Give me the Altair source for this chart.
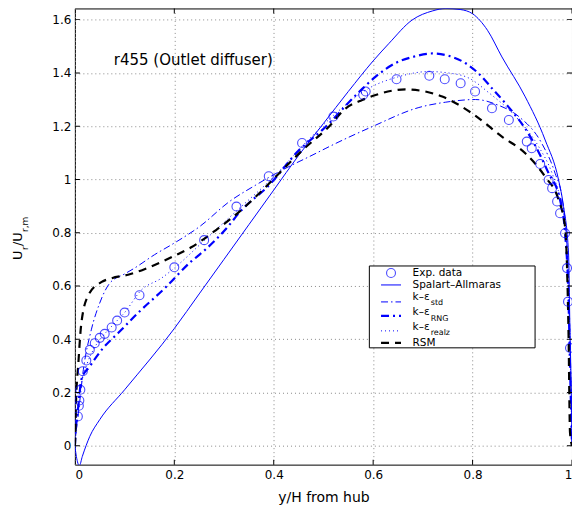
import altair as alt
import pandas as pd

# ---------------- data ----------------
exp_x = [0.006, 0.008, 0.009, 0.011, 0.016, 0.023, 0.03, 0.04, 0.05, 0.06, 0.074, 0.085, 0.10, 0.13,
         0.2, 0.26, 0.325, 0.39, 0.457, 0.52, 0.58, 0.585, 0.647, 0.713, 0.744, 0.776, 0.805, 0.839,
         0.873, 0.909, 0.919, 0.936, 0.953, 0.96, 0.97, 0.976, 0.986, 0.99, 0.992, 0.996]
exp_y = [0.11, 0.15, 0.17, 0.21, 0.28, 0.32, 0.36, 0.385, 0.405, 0.42, 0.444, 0.47, 0.50, 0.565,
         0.67, 0.772, 0.898, 1.012, 1.137, 1.236, 1.318, 1.33, 1.376, 1.389, 1.376, 1.361, 1.33, 1.267,
         1.223, 1.142, 1.117, 1.058, 0.998, 0.967, 0.917, 0.873, 0.798, 0.667, 0.541, 0.367]

sa_x = [0.0, 0.003, 0.009, 0.015, 0.03, 0.05, 0.1, 0.2, 0.25, 0.3, 0.35, 0.4, 0.45, 0.5, 0.55, 0.6,
        0.632, 0.678, 0.72, 0.746, 0.775, 0.8, 0.83, 0.859, 0.906, 0.946, 0.973, 0.983, 0.993, 0.996,
        0.999, 1.0]
sa_y = [0.0, -0.04, -0.075, -0.04, 0.035, 0.098, 0.21, 0.44, 0.57, 0.70, 0.83, 0.96, 1.09, 1.21, 1.33,
        1.445, 1.511, 1.598, 1.633, 1.642, 1.638, 1.622, 1.56, 1.46, 1.31, 1.148, 0.998, 0.898, 0.724,
        0.424, 0.15, 0.0]

std_x = [0.0, 0.003, 0.007, 0.017, 0.033, 0.05, 0.07, 0.1, 0.12, 0.16, 0.2, 0.251, 0.311, 0.364, 0.418,
         0.485, 0.505, 0.598, 0.692, 0.746, 0.806, 0.85, 0.893, 0.939, 0.966, 0.98, 0.99, 0.995, 1.0]
std_y = [0.0, 0.06, 0.12, 0.285, 0.435, 0.536, 0.61, 0.645, 0.667, 0.717, 0.761, 0.823, 0.917, 0.979,
         1.036, 1.098, 1.117, 1.198, 1.27, 1.29, 1.30, 1.28, 1.236, 1.136, 1.023, 0.93, 0.75, 0.45, 0.0]

rng_x = [0.0, 0.003, 0.007, 0.013, 0.03, 0.057, 0.087, 0.13, 0.18, 0.234, 0.258, 0.308, 0.331, 0.391,
         0.451, 0.498, 0.572, 0.605, 0.645, 0.68, 0.719, 0.75, 0.786, 0.812, 0.84, 0.866, 0.92, 0.953,
         0.976, 0.986, 0.993, 0.996, 1.0]
rng_y = [0.0, 0.086, 0.15, 0.248, 0.298, 0.367, 0.423, 0.504, 0.59, 0.692, 0.729, 0.823, 0.876, 0.979,
         1.11, 1.186, 1.329, 1.386, 1.437, 1.46, 1.473, 1.465, 1.436, 1.398, 1.34, 1.286, 1.148, 1.023,
         0.923, 0.8, 0.548, 0.3, 0.0]

realz_x = [0.0, 0.003, 0.008, 0.015, 0.025, 0.04, 0.06, 0.08, 0.1, 0.134, 0.174, 0.2, 0.26, 0.33, 0.4,
           0.46, 0.52, 0.592, 0.65, 0.712, 0.75, 0.792, 0.833, 0.893, 0.933, 0.96, 0.976, 0.986, 0.993,
           0.997, 1.0]
realz_y = [0.0, 0.1, 0.18, 0.25, 0.31, 0.37, 0.42, 0.46, 0.5, 0.585, 0.629, 0.667, 0.77, 0.89, 1.01,
           1.13, 1.24, 1.343, 1.385, 1.405, 1.40, 1.381, 1.325, 1.223, 1.123, 1.023, 0.93, 0.82, 0.6,
           0.3, 0.0]

rsm_x = [0.0, 0.001, 0.002, 0.007, 0.013, 0.027, 0.054, 0.074, 0.107, 0.14, 0.174, 0.2, 0.234, 0.284,
         0.331, 0.371, 0.411, 0.458, 0.511, 0.545, 0.578, 0.605, 0.665, 0.705, 0.739, 0.772, 0.799,
         0.859, 0.906, 0.946, 0.973, 0.986, 0.99, 0.993, 0.996, 1.0]
rsm_y = [0.0, 0.05, 0.15, 0.31, 0.46, 0.565, 0.615, 0.629, 0.642, 0.663, 0.69, 0.713, 0.745, 0.81,
         0.879, 0.948, 1.023, 1.11, 1.198, 1.267, 1.298, 1.317, 1.338, 1.33, 1.311, 1.28, 1.248,
         1.161, 1.098, 1.01, 0.923, 0.823, 0.673, 0.424, 0.05, 0.0]

x_ticks = [0, 0.2, 0.4, 0.6, 0.8, 1.0]
y_ticks = [0, 0.2, 0.4, 0.6, 0.8, 1.0, 1.2, 1.4, 1.6]

x_title = "y/H from hub"
plot_title = "r455 (Outlet diffuser)"
legend_names = ["Exp. data", "Spalart–Allmaras", "k–ε", "k–ε", "k–ε", "RSM"]
legend_subs = ["", "", "std", "RNG", "realz", ""]

# ---------------- styling ----------------
W, H = 498, 457
FONT = "DejaVu Sans"
BLUE = "#0000ff"
xs = alt.Scale(domain=[0, 1], nice=False, zero=False)
ys = alt.Scale(domain=[-0.071, 1.642], nice=False, zero=False)

common_axis = dict(format="~g", grid=True, gridDash=[1, 3], gridColor="#8a8a8a", gridWidth=1,
                   ticks=False, domain=False, labelFont=FONT, labelFontSize=12,
                   labelColor="black")
xaxis = alt.Axis(values=x_ticks, labelPadding=5, title=x_title, titleFont=FONT, titleFontSize=14,
                 titleFontWeight="normal", titleColor="black", titlePadding=10, **common_axis)
yaxis = alt.Axis(values=y_ticks, labelPadding=4, title=None, **common_axis)


def line_layer(xv, yv, color, width, dash=None):
    df = pd.DataFrame({"x": xv, "y": yv, "i": list(range(len(xv)))})
    kw = dict(stroke=color, color=color, strokeWidth=width, clip=True, interpolate="monotone")
    if dash:
        kw["strokeDash"] = dash
    return alt.Chart(df).mark_line(**kw).encode(
        x=alt.X("x:Q", scale=xs, axis=xaxis),
        y=alt.Y("y:Q", scale=ys, axis=yaxis),
        order="i:Q",
    )


one = pd.DataFrame({"a": [0]})


def txt(t, x, y, size, angle=None, align="left"):
    kw = dict(text=t, font=FONT, fontSize=size, color="black", align=align, baseline="middle")
    if angle is not None:
        kw["angle"] = angle
    return alt.Chart(one).mark_text(**kw).encode(x=alt.value(x), y=alt.value(y))


layers = []

# curves
sa = line_layer(sa_x, sa_y, BLUE, 1)
std = line_layer(std_x, std_y, BLUE, 1, [7, 3, 1.5, 3])
rng = line_layer(rng_x, rng_y, BLUE, 2.2, [8, 4, 2, 4])
realz = line_layer(realz_x, realz_y, BLUE, 1, [1, 3])
rsm = line_layer(rsm_x, rsm_y, "black", 2.2, [8, 6])
exp = alt.Chart(pd.DataFrame({"x": exp_x, "y": exp_y})).mark_point(
    shape="circle", filled=False, size=80, strokeWidth=1.1, color=BLUE, clip=True
).encode(x=alt.X("x:Q", scale=xs, axis=xaxis), y=alt.Y("y:Q", scale=ys, axis=yaxis))
layers += [sa, std, realz, rng, rsm, exp]

# inward ticks on all four sides
xt = pd.DataFrame({"v": x_ticks})
yt = pd.DataFrame({"v": y_ticks})
tick_kw = dict(size=10, thickness=1, color="black", clip=True, opacity=1)
layers.append(alt.Chart(xt).mark_tick(orient="vertical", **tick_kw).encode(
    x=alt.X("v:Q", scale=xs, axis=xaxis), y=alt.value(H)))
layers.append(alt.Chart(xt).mark_tick(orient="vertical", **tick_kw).encode(
    x=alt.X("v:Q", scale=xs, axis=xaxis), y=alt.value(0)))
layers.append(alt.Chart(yt).mark_tick(orient="horizontal", **tick_kw).encode(
    y=alt.Y("v:Q", scale=ys, axis=yaxis), x=alt.value(0)))
layers.append(alt.Chart(yt).mark_tick(orient="horizontal", **tick_kw).encode(
    y=alt.Y("v:Q", scale=ys, axis=yaxis), x=alt.value(W)))

# annotation title inside plot
layers.append(txt(plot_title, 39, 51.5, 15))

# y-axis label with subscripts (rotated)
layers.append(txt("U", -57, 252, 13, angle=270))
layers.append(txt("r", -50, 242, 9, angle=270))
layers.append(txt("/U", -57, 238, 13, angle=270))
layers.append(txt("r,m", -50, 224, 9, angle=270))

# legend box
layers.append(alt.Chart(one).mark_rect(fill="white", stroke="black", strokeWidth=1).encode(
    x=alt.value(295), x2=alt.value(461), y=alt.value(258), y2=alt.value(340)))

LX0, LX1, TX, SX = 306.7, 326.7, 338.3, 356.5
line_y = [265, 277, 294, 308, 323, 335]
main_y = [265, 277, 289, 304.5, 319, 335]
sub_y = [None, None, 295.5, 311, 325.5, None]
styles = [
    None,
    dict(stroke=BLUE, color=BLUE, strokeWidth=1),
    dict(stroke=BLUE, color=BLUE, strokeWidth=1, strokeDash=[7, 3, 1.5, 3]),
    dict(stroke=BLUE, color=BLUE, strokeWidth=2.2, strokeDash=[8, 4, 2, 4]),
    dict(stroke=BLUE, color=BLUE, strokeWidth=1, strokeDash=[1, 3]),
    dict(stroke="black", color="black", strokeWidth=2.2, strokeDash=[8, 6]),
]
layers.append(alt.Chart(one).mark_point(shape="circle", filled=False, size=80, strokeWidth=1.1,
                                        color=BLUE).encode(x=alt.value((LX0 + LX1) / 2),
                                                           y=alt.value(line_y[0])))
for i in range(1, 6):
    layers.append(alt.Chart(one).mark_rule(**styles[i]).encode(
        x=alt.value(LX0), x2=alt.value(LX1), y=alt.value(line_y[i])))
for i in range(6):
    layers.append(txt(legend_names[i], TX, main_y[i], 10.5))
    if legend_subs[i]:
        layers.append(txt(legend_subs[i], SX, sub_y[i], 8))

chart = alt.layer(*layers).properties(
    width=W, height=H,
    autosize=alt.AutoSizeParams(type="none"),
    padding={"left": 67, "top": 0, "right": 0, "bottom": 40},
    background="white",
).configure_view(stroke="black", strokeWidth=1)

chart.save("out.html", embed_options={"renderer": "svg", "actions": False})
